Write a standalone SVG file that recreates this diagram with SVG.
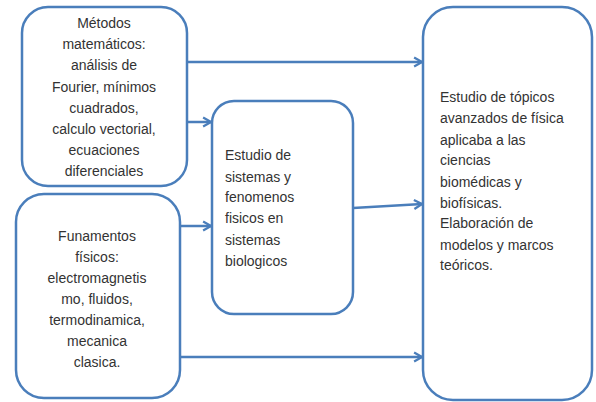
<svg xmlns="http://www.w3.org/2000/svg" width="596" height="402" viewBox="0 0 596 402">
<style>
.box{fill:#fff;stroke:#4a7ebb;stroke-width:2.5}
.t{font-family:"Liberation Sans",Arial,sans-serif;font-size:14px;fill:#333}
.c{text-anchor:middle}
.con{stroke:#4a7ebb;stroke-width:2.5;fill:none;marker-end:url(#ah)}
</style>
<defs>
<marker id="ah" viewBox="0 0 10 10" refX="9" refY="5" markerWidth="4.5" markerHeight="4.5" orient="auto" markerUnits="strokeWidth">
<polyline points="2,1 9,5 2,9" fill="none" stroke="#4a7ebb" stroke-width="2"/>
</marker>
</defs>
<rect width="596" height="402" fill="#fff"/>
<g id="connectors">
<line class="con" x1="187" y1="62" x2="422" y2="62"/>
<line class="con" x1="187" y1="122" x2="211" y2="122"/>
<line class="con" x1="180" y1="226" x2="211" y2="226"/>
<line class="con" x1="353" y1="208" x2="422" y2="204"/>
<line class="con" x1="180" y1="357" x2="422" y2="357"/>
</g>
<g id="n1">
<rect class="box" x="22" y="7" width="165" height="179" rx="26"/>
<text class="t c"><tspan x="104" y="28">Métodos</tspan><tspan x="104" y="49">matemáticos:</tspan><tspan x="104" y="70">análisis de</tspan><tspan x="104" y="92">Fourier, mínimos</tspan><tspan x="104" y="113">cuadrados,</tspan><tspan x="104" y="134">calculo vectorial,</tspan><tspan x="104" y="155">ecuaciones</tspan><tspan x="104" y="176">diferenciales</tspan></text>
</g>
<g id="n2">
<rect class="box" x="16" y="194" width="164" height="204" rx="28"/>
<text class="t c"><tspan x="97" y="241">Funamentos</tspan><tspan x="97" y="262">físicos:</tspan><tspan x="97" y="283">electromagnetis</tspan><tspan x="97" y="304">mo, fluidos,</tspan><tspan x="97" y="325">termodinamica,</tspan><tspan x="97" y="346">mecanica</tspan><tspan x="97" y="367">clasica.</tspan></text>
</g>
<g id="n3">
<rect class="box" x="212" y="101" width="141" height="213" rx="22"/>
<text class="t"><tspan x="225" y="160">Estudio de</tspan><tspan x="225" y="182">sistemas y</tspan><tspan x="225" y="202">fenomenos</tspan><tspan x="225" y="223">fisicos en</tspan><tspan x="225" y="245">sistemas</tspan><tspan x="225" y="266">biologicos</tspan></text>
</g>
<g id="n4">
<rect class="box" x="423" y="7" width="169" height="393" rx="30"/>
<text class="t"><tspan x="440" y="102">Estudio de tópicos</tspan><tspan x="440" y="123">avanzados de física</tspan><tspan x="440" y="145">aplicaba a las</tspan><tspan x="440" y="165">ciencias</tspan><tspan x="440" y="187">biomédicas y</tspan><tspan x="440" y="208">biofísicas.</tspan><tspan x="440" y="228">Elaboración de</tspan><tspan x="440" y="250">modelos y marcos</tspan><tspan x="440" y="270">teóricos.</tspan></text>
</g>
</svg>
